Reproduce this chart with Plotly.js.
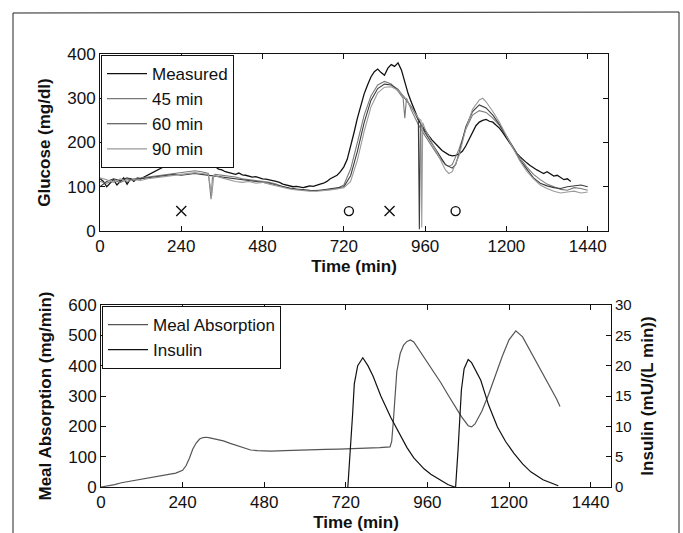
<!DOCTYPE html>
<html>
<head>
<meta charset="utf-8">
<script src="https://cdn.plot.ly/plotly-3.0.1.min.js"></script>
<style>html,body{margin:0;padding:0;background:#fff;}#chart{width:683px;height:533px;}</style>
</head>
<body>
<div id="chart"></div>
<script>
// ---------- Glucose panel data ----------
const tMeasured = [0,10,20,30,40,50,60,70,80,90,100,110,120,130,140,150,160,170,180,190,200,210,220,230,240,250,260,270,280,290,300,310,320,330,340,350,360,370,380,390,400,410,420,430,440,450,460,470,480,490,500,510,520,530,540,550,560,570,580,590,600,610,620,630,640,650,660,670,680,690,700,710,720,730,740,750,760,770,780,790,800,810,820,830,840,850,860,870,880,890,900,910,920,930,940,950,960,970,980,990,1000,1010,1020,1030,1040,1050,1060,1070,1080,1090,1100,1110,1120,1130,1140,1150,1160,1170,1180,1190,1200,1210,1220,1230,1240,1250,1260,1270,1280,1290,1300,1310,1320,1330,1340,1350,1360,1370,1380,1390];
const gMeasured = [118,112,100,108,116,104,112,120,106,118,112,120,118,122,125,130,134,138,142,146,150,148,152,155,158,154,150,152,148,150,147,146,148,145,146,140,138,134,132,130,128,131,127,126,124,122,123,120,118,117,116,114,112,110,106,104,102,100,101,99,98,100,102,101,104,106,108,112,118,122,126,134,145,162,190,222,255,285,310,330,348,360,366,358,352,368,376,372,380,364,335,310,290,270,252,238,226,216,206,197,190,182,176,172,170,171,174,180,192,208,225,238,246,250,252,248,246,240,232,222,210,198,186,176,168,160,154,148,142,138,134,130,134,128,124,126,120,116,118,112];

const t45 = [0,20,40,60,80,100,120,140,160,180,200,220,240,260,280,300,320,328,332,340,360,380,400,420,440,460,480,500,520,540,560,580,600,620,640,660,680,700,720,740,760,780,800,820,840,860,880,895,900,905,920,940,960,980,1000,1020,1030,1040,1060,1080,1100,1120,1140,1160,1180,1200,1220,1240,1260,1280,1300,1320,1340,1360,1380,1400,1420,1440];
const g45 = [112,108,114,110,116,118,120,122,124,126,128,130,132,134,136,134,130,72,120,128,126,124,122,118,116,114,112,110,106,100,96,94,92,91,92,92,94,96,104,140,200,262,305,330,338,332,316,300,255,300,272,240,215,190,168,150,146,150,185,230,262,272,268,255,238,215,190,165,145,128,116,106,100,94,92,98,96,92];

const t60 = [0,20,40,60,80,100,120,140,160,180,200,220,240,260,280,300,320,340,360,380,400,420,440,460,480,500,520,540,560,580,600,620,640,660,680,700,720,740,760,780,800,820,840,860,880,900,920,935,940,943,946,960,980,1000,1020,1040,1050,1060,1080,1100,1120,1140,1160,1180,1200,1220,1240,1260,1280,1300,1320,1340,1360,1380,1400,1420,1440];
const g60 = [100,112,118,114,120,116,118,120,122,124,126,128,126,128,130,128,126,124,122,120,118,116,115,113,111,108,104,100,97,95,93,92,91,93,95,98,100,125,180,245,295,322,332,330,320,300,280,258,250,4,240,222,198,172,150,142,150,175,235,270,285,278,262,240,215,188,160,140,120,108,102,98,96,100,102,104,100];

const t90 = [0,20,40,60,80,100,120,140,160,180,200,220,240,260,280,300,320,330,336,360,380,400,420,440,460,480,500,520,540,560,580,600,620,640,660,680,700,720,740,760,780,800,820,840,860,880,900,920,940,948,950,953,960,980,1000,1020,1030,1040,1060,1080,1100,1120,1130,1140,1160,1180,1200,1220,1240,1260,1280,1300,1320,1340,1360,1380,1400,1420,1440];
const g90 = [120,116,110,118,112,116,114,118,120,122,124,126,128,130,132,130,128,80,126,120,116,112,110,112,108,110,106,102,98,95,93,91,90,90,91,93,95,98,112,160,225,280,312,325,326,318,302,278,255,250,8,245,230,200,168,138,130,134,170,230,275,296,300,292,270,245,215,185,158,135,118,104,96,90,86,88,90,86,88];

const crossT = [240, 855];
const crossG = [45, 45];
const circleT = [735, 1050];
const circleG = [45, 45];

// ---------- Meal / insulin panel data ----------
const tMeal = [0,20,40,60,80,100,120,140,160,180,200,220,240,250,260,270,280,290,300,310,320,340,360,380,400,420,440,460,480,500,540,580,620,660,700,740,780,820,850,855,860,870,880,890,900,910,920,940,960,980,1000,1020,1040,1060,1080,1090,1100,1120,1140,1160,1180,1200,1220,1240,1260,1280,1300,1320,1340,1350];
const mealRate = [0,3,8,14,18,22,26,30,33,36,40,46,55,70,95,125,145,158,163,164,162,158,152,144,136,128,122,120,118,118,120,122,124,124,125,126,128,130,132,150,220,380,440,468,480,485,478,445,412,378,343,305,270,232,202,198,208,250,305,370,430,485,515,495,455,415,375,335,290,265];

const tIns = [726,735,740,745,755,770,785,800,823,852,872,900,920,950,970,1000,1020,1040,1043,1050,1055,1060,1068,1080,1090,1100,1117,1140,1166,1190,1214,1240,1264,1300,1331,1345];
const insulin = [0,7,12,17,20,21.3,20,18.3,15,11.5,9.5,6.5,4.8,3,2.1,1,0.4,0,0,6,12,16,19.5,21,20.5,19.5,17.6,13.5,9.9,7.5,5.6,3.8,2.5,1.2,0.5,0.2];

const xTicks = [0,240,480,720,960,1200,1440];

const W = 683, H = 533;
const px = v => v / W;
const py = v => 1 - v / H;

const FONT = 'Liberation Sans, Arial, sans-serif';
const INK = '#111111';

const traces = [
  {x: tMeasured, y: gMeasured, name: 'Measured', type: 'scatter', mode: 'lines', line: {color: '#111111', width: 1.3}, xaxis: 'x', yaxis: 'y', legend: 'legend'},
  {x: t45, y: g45, name: '45 min', type: 'scatter', mode: 'lines', line: {color: '#7a7a7a', width: 1.1}, xaxis: 'x', yaxis: 'y', legend: 'legend'},
  {x: t60, y: g60, name: '60 min', type: 'scatter', mode: 'lines', line: {color: '#3a3a3a', width: 1.1}, xaxis: 'x', yaxis: 'y', legend: 'legend'},
  {x: t90, y: g90, name: '90 min', type: 'scatter', mode: 'lines', line: {color: '#9a9a9a', width: 1.1}, xaxis: 'x', yaxis: 'y', legend: 'legend'},
  {x: crossT, y: crossG, type: 'scatter', mode: 'markers', showlegend: false, hoverinfo: 'skip',
   marker: {symbol: 'x-thin-open', size: 10, color: INK, line: {color: INK, width: 1.4}}, xaxis: 'x', yaxis: 'y'},
  {x: circleT, y: circleG, type: 'scatter', mode: 'markers', showlegend: false, hoverinfo: 'skip',
   marker: {symbol: 'circle-open', size: 9, color: INK, line: {color: INK, width: 1.4}}, xaxis: 'x', yaxis: 'y'},
  {x: tMeal, y: mealRate, name: 'Meal Absorption', type: 'scatter', mode: 'lines', line: {color: '#555555', width: 1.2}, xaxis: 'x2', yaxis: 'y2', legend: 'legend2'},
  {x: tIns, y: insulin, name: 'Insulin', type: 'scatter', mode: 'lines', line: {color: '#111111', width: 1.2}, xaxis: 'x2', yaxis: 'y3', legend: 'legend2'}
];

const axisCommon = {
  showgrid: false, zeroline: false, showline: true, linecolor: INK, linewidth: 1,
  ticks: 'inside', ticklen: 5, tickcolor: INK, tickwidth: 1,
  tickfont: {family: FONT, size: 17, color: INK}
};
const titleFont = {family: FONT, size: 17, color: INK, weight: 'bold'};

const layout = {
  width: W, height: H,
  margin: {l: 0, r: 0, t: 0, b: 0},
  paper_bgcolor: '#ffffff', plot_bgcolor: '#ffffff',
  font: {family: FONT, color: INK},
  showlegend: true,
  xaxis: Object.assign({}, axisCommon, {
    domain: [px(100), px(608)], range: [0, 1500], tickvals: xTicks, mirror: 'ticks', anchor: 'y',
    title: {text: '<b>Time (min)</b>', font: titleFont, standoff: 4}
  }),
  yaxis: Object.assign({}, axisCommon, {
    domain: [py(231), py(54)], range: [0, 400], dtick: 100, tick0: 0, mirror: 'ticks', anchor: 'x',
    title: {text: '<b>Glucose (mg/dl)</b>', font: titleFont, standoff: 12}
  }),
  xaxis2: Object.assign({}, axisCommon, {
    domain: [px(101), px(611)], range: [0, 1500], tickvals: xTicks, mirror: 'ticks', anchor: 'y2',
    title: {text: '<b>Time (min)</b>', font: titleFont, standoff: 4}
  }),
  yaxis2: Object.assign({}, axisCommon, {
    domain: [py(487), py(305)], range: [0, 600], dtick: 100, tick0: 0, mirror: false, anchor: 'x2',
    title: {text: '<b>Meal Absorption (mg/min)</b>', font: titleFont, standoff: 12}
  }),
  yaxis3: Object.assign({}, axisCommon, {
    overlaying: 'y2', side: 'right', anchor: 'x2', range: [0, 30], dtick: 5, tick0: 0,
    tickfont: {family: FONT, size: 15, color: INK},
    title: {text: '<b>Insulin (mU/(L min))</b>', font: titleFont, standoff: 10}
  }),
  legend: {
    x: px(101), y: py(55), xanchor: 'left', yanchor: 'top',
    bgcolor: '#ffffff', bordercolor: INK, borderwidth: 1,
    font: {family: FONT, size: 17, color: INK}, tracegroupgap: 0, itemwidth: 40
  },
  legend2: {
    x: px(102), y: py(306), xanchor: 'left', yanchor: 'top',
    bgcolor: '#ffffff', bordercolor: INK, borderwidth: 1,
    font: {family: FONT, size: 17, color: INK}, tracegroupgap: 0, itemwidth: 40
  },
  shapes: [
    {type: 'path', xref: 'paper', yref: 'paper',
     path: 'M ' + px(13) + ' 0 L ' + px(13) + ' ' + py(13) + ' L ' + px(679) + ' ' + py(12) + ' L ' + px(679) + ' 0',
     line: {color: '#222222', width: 1}}
  ]
};

Plotly.newPlot('chart', traces, layout, {staticPlot: true, displayModeBar: false});
</script>
</body>
</html>
